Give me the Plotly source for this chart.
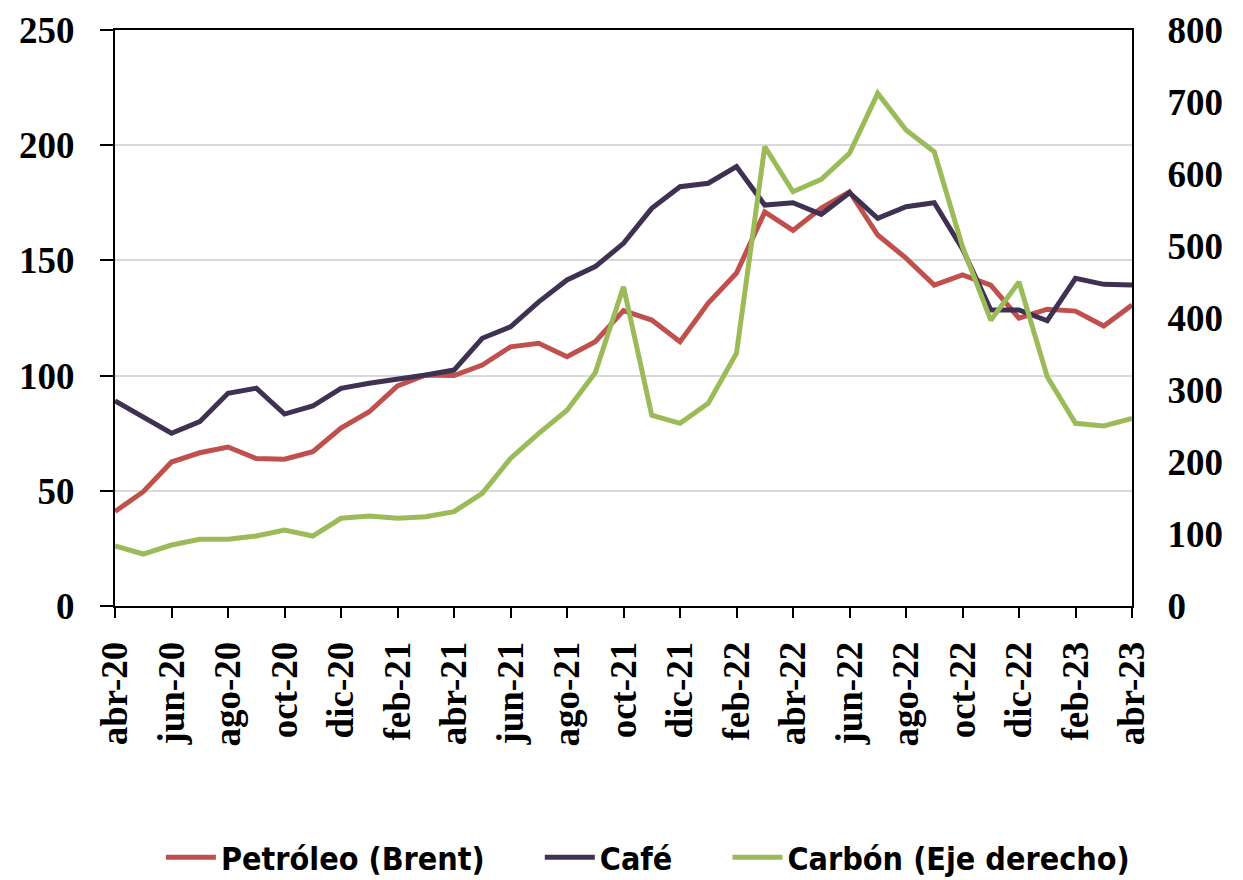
import plotly.graph_objects as go

months = ["abr", "may", "jun", "jul", "ago", "sep", "oct", "nov", "dic", "ene", "feb", "mar"]
labels = []
for i in range(37):
    m = i % 12
    yr = 20 + (3 + i) // 12
    labels.append(f"{months[m]}-{yr}")

petroleo = [41, 49.6, 62.5, 66.5, 69, 64, 63.7, 67, 77.2, 84.3, 95.5, 100.3, 100,
            104.6, 112.5, 114, 108.2, 114.7, 128.2, 124.1, 114.7, 131.5, 144.5, 171,
            163, 172.7, 179.8, 161, 151, 139.3, 143.7, 139.3, 124.9, 128.8, 128, 121.5, 130.6]
cafe = [89, 82.2, 75, 80, 92.3, 94.5, 83.3, 86.8, 94.5, 96.7, 98.4, 100.3, 102.4,
        116.2, 121.2, 132, 141.5, 147.3, 157.4, 172.6, 182, 183.5, 190.7, 174,
        175, 170, 179.4, 168.3, 173.3, 175, 155, 128.5, 128.5, 123.8, 142.2, 139.6, 139.3]
carbon = [83.3, 72.2, 84.7, 92.6, 92.6, 97.2, 105.6, 97.2, 121.8, 125, 121.8, 124, 131,
          156.5, 205, 239.8, 272, 324, 443.5, 265, 253.7, 281.5, 351, 638,
          575.4, 592.6, 628.7, 712, 661, 631, 499, 397, 450, 318.5, 253.7, 250, 260.7]

x = list(range(len(labels)))
tickvals = x[::2]
ticktext = labels[::2]

tick_font = dict(family="Liberation Serif", size=37, color="black", weight="bold")
legend_font = dict(family="DejaVu Sans Condensed, DejaVu Sans, sans-serif", size=32,
                   color="black", weight="bold")
gap = "\u00a0" * 5

fig = go.Figure()
fig.add_trace(go.Scatter(x=x, y=petroleo, name="Petróleo (Brent)" + gap, mode="lines",
                         line=dict(color="#C0504D", width=5)))
fig.add_trace(go.Scatter(x=x, y=cafe, name="Café" + gap, mode="lines",
                         line=dict(color="#3F3151", width=5)))
fig.add_trace(go.Scatter(x=x, y=carbon, name="Carbón (Eje derecho)", mode="lines",
                         line=dict(color="#9BBB59", width=5), yaxis="y2"))

fig.update_layout(
    width=1235, height=872,
    paper_bgcolor="white", plot_bgcolor="white",
    margin=dict(l=107, r=111, t=22, b=274),
    showlegend=True,
    legend=dict(orientation="h", xref="paper", x=0.524, xanchor="center",
                yref="container", y=0.026, yanchor="middle",
                font=legend_font, itemwidth=50, traceorder="normal"),
    xaxis=dict(range=[0, 36], tickmode="array", tickvals=tickvals, ticktext=ticktext,
               tickangle=-90, tickfont=tick_font, ticks="outside", ticklen=10,
               tickwidth=2, tickcolor="black", showline=True, linecolor="black",
               linewidth=2, mirror=True, showgrid=False, zeroline=False,
               automargin=False, ticklabelstandoff=9),
    yaxis=dict(range=[0, 250], tickvals=[0, 50, 100, 150, 200, 250], tickfont=tick_font,
               ticks="outside", ticklen=13, tickwidth=2, tickcolor="black",
               showline=True, linecolor="black", linewidth=2,
               showgrid=True, gridcolor="#D9D9D9", gridwidth=2, zeroline=False,
               automargin=False, ticklabelstandoff=18),
    yaxis2=dict(range=[0, 800], tickvals=[0, 100, 200, 300, 400, 500, 600, 700, 800],
                tickfont=tick_font, overlaying="y", side="right", ticks="outside",
                ticklen=26, tickcolor="rgba(0,0,0,0)",
                showline=True, linecolor="black", linewidth=2, showgrid=False,
                zeroline=False, automargin=False),
)

fig.write_html("out.html")
